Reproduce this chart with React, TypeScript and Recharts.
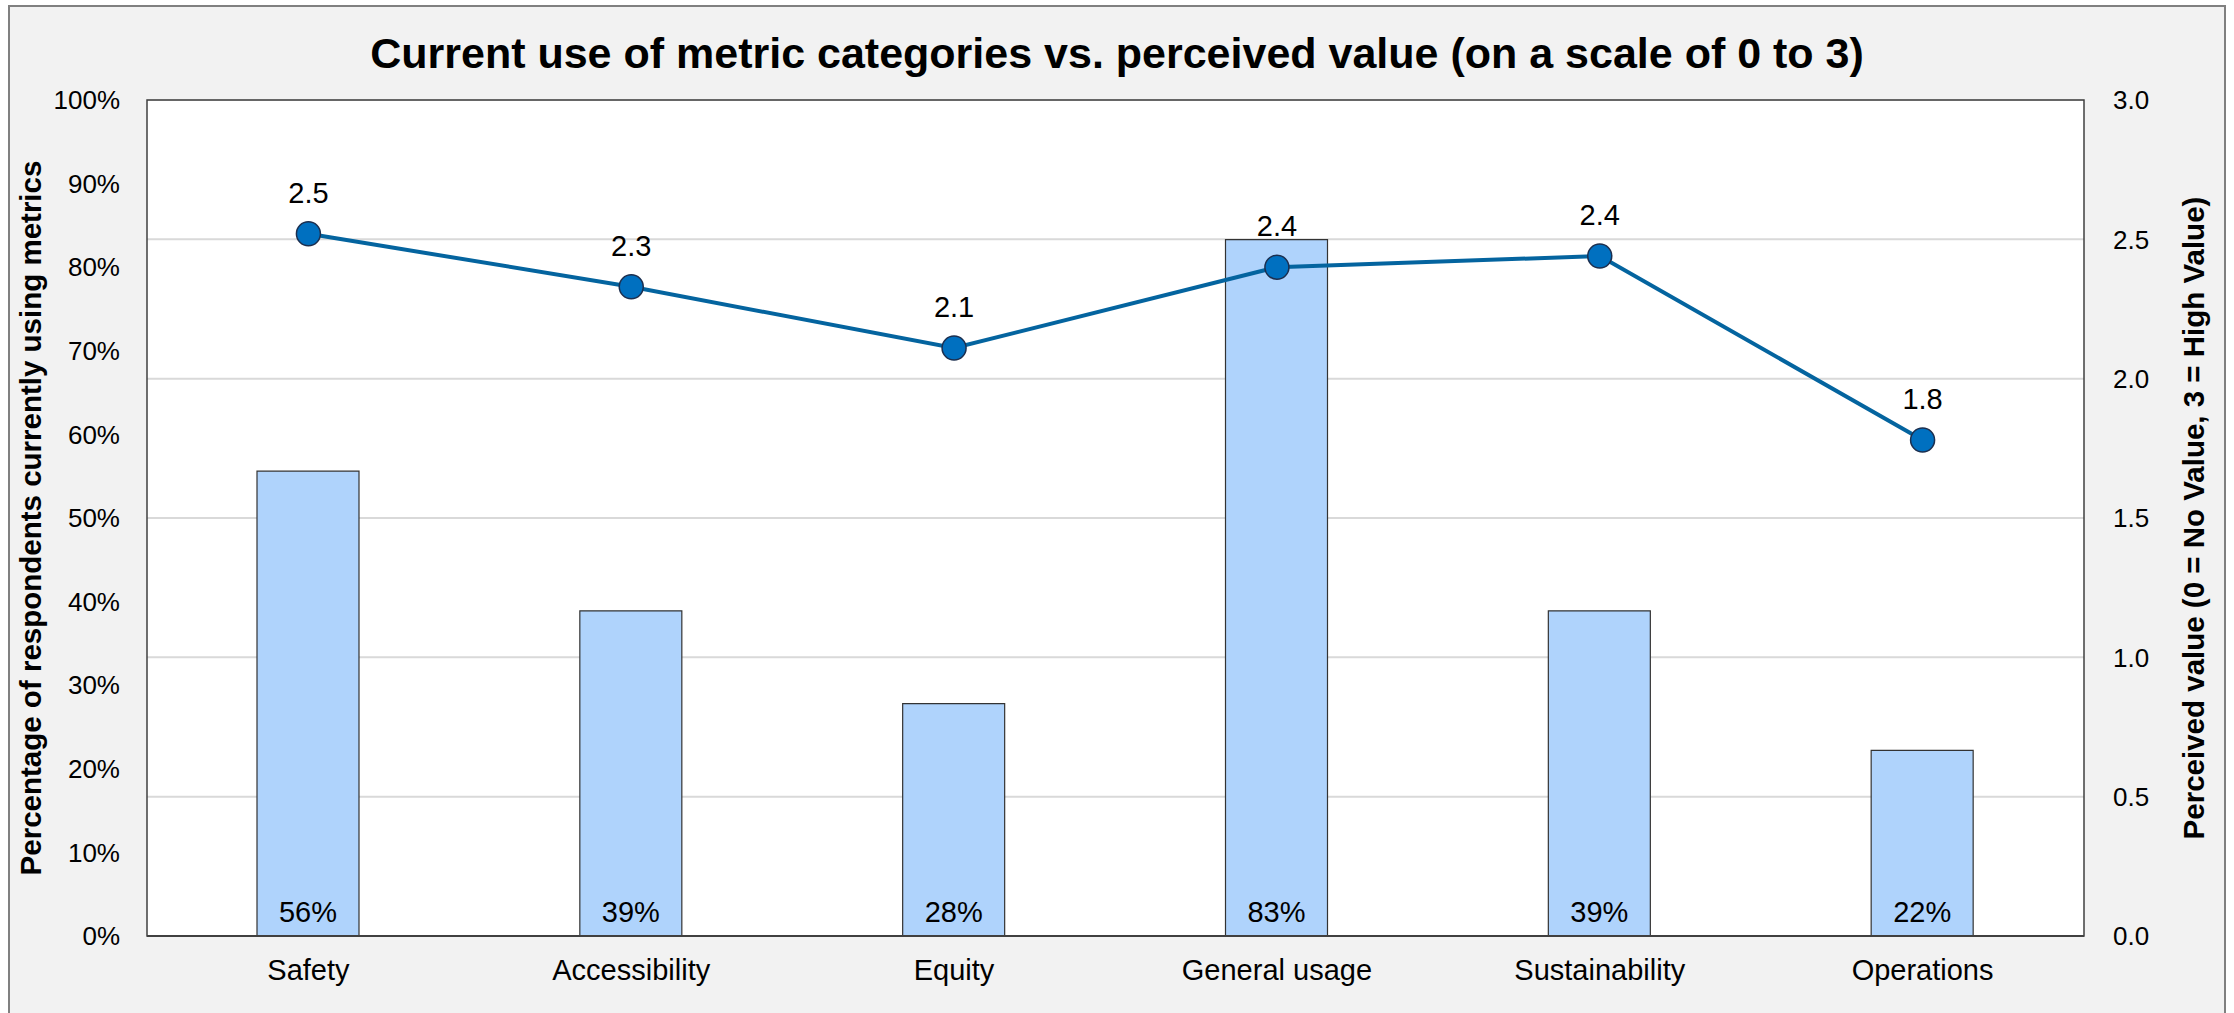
import React from 'react';
import {
  ComposedChart,
  Bar,
  Line,
  XAxis,
  YAxis,
  CartesianGrid,
  LabelList,
  ReferenceArea,
} from 'recharts';

const categories = ['Safety', 'Accessibility', 'Equity', 'General usage', 'Sustainability', 'Operations'];
// share of respondents (n = 18) currently using each metric category
const pctUsing = [55.6, 38.9, 27.8, 83.3, 38.9, 22.2];
// mean perceived value on a 0-3 scale
const perceivedValue = [2.52, 2.33, 2.11, 2.4, 2.44, 1.78];
const pctTicks = [0, 10, 20, 30, 40, 50, 60, 70, 80, 90, 100];
const valueTicks = [0, 0.5, 1, 1.5, 2, 2.5, 3];

const data = categories.map((name, i) => ({
  name,
  pct: pctUsing[i],
  value: perceivedValue[i],
}));

const FONT = '"Liberation Sans", Arial, sans-serif';

export default function App() {
  return (
    <div style={{ position: 'absolute', left: 0, top: 0, width: 2234, height: 1013, overflow: 'hidden', background: '#fff', fontFamily: FONT }}>
      <div
        style={{
          position: 'absolute',
          left: 8,
          top: 5,
          width: 2214,
          height: 1020,
          border: '2px solid #808080',
          background: '#f2f2f2',
        }}
      />
      <div
        style={{
          position: 'absolute',
          left: 0,
          top: 32,
          width: 2234,
          textAlign: 'center',
          fontSize: 43,
          lineHeight: '43px',
          fontWeight: 'bold',
          color: '#000',
        }}
      >
        Current use of metric categories vs. perceived value (on a scale of 0 to 3)
      </div>
      <div style={{ position: 'absolute', left: 0, top: 0 }}>
        <ComposedChart
          width={2234}
          height={1013}
          data={data}
          margin={{ top: 100, right: 20, bottom: 27, left: 17 }}
          barCategoryGap="34%"
          style={{ fontFamily: FONT }}
        >
          <CartesianGrid yAxisId="right" vertical={false} fill="#fff" stroke="#d9d9d9" strokeWidth={2} />
          <XAxis
            dataKey="name"
            yAxisId="left"
            height={50}
            tickLine={false}
            tickMargin={17}
            axisLine={{ stroke: '#404040', strokeWidth: 2 }}
            tick={{ fill: '#000', fontSize: 29 }}
          />
          <YAxis
            yAxisId="left"
            width={130}
            domain={[0, 100]}
            ticks={pctTicks}
            tickFormatter={(v: number) => `${v}%`}
            axisLine={false}
            tickLine={false}
            tickMargin={21}
            tick={{ fill: '#000', fontSize: 26 }}
            label={{
              value: 'Percentage of respondents currently using metrics',
              angle: -90,
              position: 'insideLeft',
              offset: 14,
              style: { textAnchor: 'middle', fontSize: 29.5, fontWeight: 'bold', fill: '#000' },
            }}
          />
          <YAxis
            yAxisId="right"
            orientation="right"
            width={130}
            domain={[0, 3]}
            ticks={valueTicks}
            tickFormatter={(v: number) => v.toFixed(1)}
            axisLine={false}
            tickLine={false}
            tickMargin={23}
            tick={{ fill: '#000', fontSize: 26 }}
            label={{
              value: 'Perceived value (0 = No Value, 3 = High Value)',
              angle: -90,
              position: 'insideRight',
              offset: 20,
              style: { textAnchor: 'middle', fontSize: 29.5, fontWeight: 'bold', fill: '#000' },
            }}
          />
          <ReferenceArea yAxisId="right" y1={0} y2={3} fill="none" stroke="#404040" strokeWidth={1.5} ifOverflow="visible" />
          <Bar yAxisId="left" dataKey="pct" barSize={102} fill="#afd3fc" stroke="#333" strokeWidth={1.2} isAnimationActive={false}>
            <LabelList
              dataKey="pct"
              position="insideBottom"
              offset={14}
              formatter={(v: number) => `${Math.round(v)}%`}
              style={{ fill: '#000', fontSize: 29 }}
            />
          </Bar>
          <Line
            yAxisId="right"
            dataKey="value"
            stroke="#04649f"
            strokeWidth={4}
            dot={{ r: 12, fill: '#0070c0', stroke: '#1c2f4f', strokeWidth: 1.5 }}
            activeDot={false}
            isAnimationActive={false}
          >
            <LabelList
              dataKey="value"
              position="top"
              offset={31}
              formatter={(v: number) => v.toFixed(1)}
              style={{ fill: '#000', fontSize: 29 }}
            />
          </Line>
        </ComposedChart>
      </div>
    </div>
  );
}
